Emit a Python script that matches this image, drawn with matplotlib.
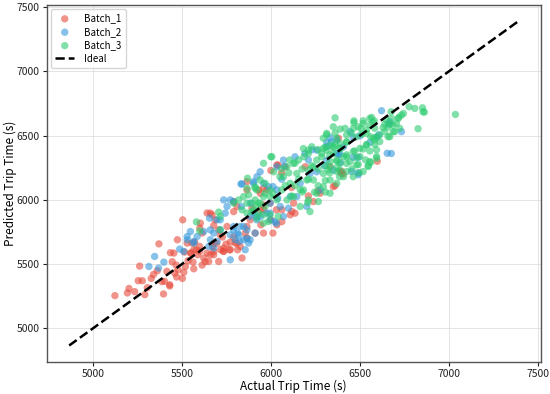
import matplotlib
matplotlib.use("Agg")
import matplotlib.pyplot as plt
import numpy as np

plt.rcParams['font.family'] = ['Noto Sans CJK SC', 'DejaVu Sans']

# (actual, predicted) values
batch1_points = [
    (5123,5254),(5202,5310),(5193,5275),(5234,5285),(5254,5370),(5277,5370),(5262,5484),(5291,5262),
    (5305,5316),(5327,5388),(5340,5419),(5361,5448),(5370,5657),(5396,5267),(5387,5363),(5402,5365),
    (5415,5443),(5431,5339),(5431,5329),(5435,5588),(5445,5518),(5454,5585),(5459,5430),(5467,5492),
    (5474,5689),(5470,5399),(5478,5456),(5502,5388),(5504,5844),(5510,5436),(5514,5593),(5519,5481),
    (5529,5663),(5534,5526),(5549,5585),(5557,5663),(5562,5515),(5566,5463),(5571,5671),(5581,5611),
    (5588,5572),(5599,5637),(5613,5492),(5622,5547),(5630,5518),(5641,5585),(5650,5520),(5659,5572),
    (5671,5637),(5678,5572),(5695,5660),(5706,5520),(5717,5611),(5727,5710),(5732,5600),(5747,5655),
    (5767,5611),(5799,5663),(5812,5611),(5837,5547),(5855,5741),(5865,5792),(5883,5844),(5911,5741),
    (5958,5922),(5999,5844),(5943,5805),(5641,5897),(5669,5883),(5603,5818),(5687,5844),(5706,5766),
    (5753,5792),(5790,5710),(5659,5896),(5678,5800),(5613,5741),(5600,5780),(5715,5727),(5678,5663),
    (5566,5611),(5600,5600),(5550,5585),(5734,5624),(5771,5611),(5809,5663),(5734,5598),(5678,5598),
    (5771,5670),(5827,5637),(5865,5702),(5958,5741),(6011,5741),(5893,5935),(5940,5922),(5790,5908),
    (5809,5948),(5790,5986),(5995,5974),(5958,5960),(6030,5922),(5865,6077),(5940,6050),(6033,6271),
    (5976,6077),(5958,6090),(5930,6077),(6080,6257),(6192,6257),(6276,6051),(6350,6102),(6397,6205),
    (6127,5974),(6117,5909),(6061,5922),(6108,5883),(6238,5986),(6597,6300),(6390,6215),(6405,6200),
    (6360,6110),(6265,6070),(6210,6030),(6115,6095),(6060,6210),(6040,6270),(6135,5896),(6061,5830),
    (6033,5805),(6379,6479),(6397,6220),(6332,6259),(5865,6141),(5999,6228),
]

batch2_points = [
    (5346,5559),(5314,5481),(5368,5469),(5398,5515),(5487,5616),(5529,5714),(5547,5753),(5566,5663),
    (5622,5753),(5650,5637),(5678,5625),(5655,5857),(5715,5844),(5743,5896),(5771,5533),(5790,5766),
    (5799,5690),(5812,5741),(5823,5676),(5855,5611),(5874,5663),(5865,5700),(5827,5792),(5790,5986),
    (5834,5948),(5883,5974),(5920,5870),(5902,5896),(5837,6123),(5902,6141),(5958,6128),(5734,5999),
    (5771,5999),(5753,5948),(5697,5844),(5659,5766),(5678,5741),(5715,5766),(5790,5792),(5818,5727),
    (5846,5792),(5865,5766),(5883,5870),(5940,5870),(5995,5844),(6020,5831),(5510,5598),(5529,5689),
    (5566,5676),(5585,5715),(5659,5689),(5697,5676),(5771,5727),(5846,5689),(5883,5689),(5911,5741),
    (5920,5844),(5976,5896),(6030,5818),(6011,6103),(6038,6012),(5921,6180),(5939,6218),(5902,6128),
    (5986,6102),(6033,6077),(5995,5974),(6052,5948),(6098,5935),(6145,6025),(6164,6128),(6219,6205),
    (6257,6218),(6313,6309),(6369,6360),(6407,6412),(6313,6412),(6257,6386),(6033,6257),(6070,6309),
    (6108,6025),(6276,6077),(6350,6231),(6201,5948),(5995,5896),(6070,5870),(6621,6693),(6733,6530),
    (6653,6362),(6676,6360),(6660,6590),(6444,6530),(6490,6210),(6370,6465),(6340,6450),(6380,6350),
    (6230,6390),(6190,6360),(6135,6335),(6075,6260),(6060,6160),(6210,6310),(6300,6265),(6390,6290),
    (6490,6330),(6605,6505),(6667,6607),(6593,6485),(6500,6498),(6462,6485),(6313,6446),(6332,6485),
    (6388,6355),(6462,6330),(6555,6446),(6453,6221),(6490,6195),(5831,6123),
]

batch3_points = [
    (5581,5828),(5599,5758),(5706,5904),(5715,5766),(5868,6168),(5958,6284),(5999,6335),(5865,6090),
    (5910,6090),(5846,6025),(5874,6038),(5920,6077),(5958,6025),(5995,6025),(6011,6050),(5865,5974),
    (5893,5974),(5920,5948),(5940,5974),(5967,5948),(5930,5896),(5995,5883),(5865,5896),(5837,5922),
    (5818,5999),(5790,5974),(5715,5870),(5920,5857),(5986,5831),(6040,5870),(5958,5818),(5902,5922),
    (5911,5999),(5930,5974),(5967,6051),(5995,6077),(5967,6128),(5939,6154),(6005,6335),(6015,6218),
    (6070,6180),(6090,6257),(6125,6283),(6145,6205),(6108,6128),(6061,6077),(6033,5999),(6090,5999),
    (6164,6077),(6201,6154),(6210,6231),(6238,6257),(6257,6309),(6285,6360),(6313,6386),(6350,6412),
    (6388,6438),(6425,6451),(6182,6399),(6210,6386),(6369,6309),(6407,6335),(6332,6257),(6294,6205),
    (6238,6154),(6182,6077),(6127,6025),(6164,5948),(6210,5999),(6257,6051),(6294,6102),(6332,6154),
    (6388,6231),(6425,6283),(6266,5986),(6219,5908),(6332,6051),(6369,6128),(6407,6180),(5911,6102),
    (5893,5909),(5958,5883),(6360,6638),(6466,6615),(6466,6600),(6518,6615),(6565,6641),(6580,6615),
    (6675,6685),(6744,6672),(6776,6724),(6808,6711),(6851,6716),(6862,6682),(7036,6664),(6826,6553),
    (6718,6641),(6686,6530),(6658,6491),(6630,6560),(6670,6590),(6350,6568),(6360,6520),(6313,6506),
    (6388,6550),(6416,6556),(6450,6520),(6505,6556),(6480,6490),(6510,6510),(6537,6543),(6560,6490),
    (6593,6491),(6610,6505),(6580,6465),(6583,6430),(6537,6430),(6518,6395),(6555,6380),(6531,6310),
    (6560,6290),(6593,6323),(6546,6265),(6490,6275),(6495,6210),(6462,6180),(6455,6240),(6425,6335),
    (6388,6395),(6350,6410),(6360,6435),(6425,6450),(6470,6380),(6480,6330),(6370,6300),(6330,6350),
    (6285,6335),(6265,6390),(6305,6410),(6229,6413),(6210,6360),(6185,6335),(6155,6310),(6135,6285),
    (6105,6310),(6175,6240),(6229,6265),(6265,6240),(6305,6265),(6330,6210),(6370,6250),(6385,6180),
    (6305,6150),(6305,6060),(6210,6160),(6155,6160),(6100,6210),(6060,6240),(6050,6180),(6080,6110),
    (6135,6110),(6265,6110),(6245,6060),(6175,6060),(6115,6030),(6555,6633),(6574,6602),(6462,6556),
    (6490,6568),(6518,6594),(6555,6582),(6583,6556),(6639,6587),(6658,6568),(6686,6582),(6705,6594),
    (6714,6633),(6733,6659),(6677,6633),(6649,6620),(6639,6530),(6667,6491),(6695,6530),(6723,6556),
    (6854,6685),(6313,6517),(6294,6479),(6369,6479),(6425,6505),(6537,6517),(6574,6479),(6611,6453),
    (6537,6427),(6593,6389),(6500,6401),(6462,6375),(6388,6401),(6332,6427),(6294,6401),(6350,6362),
    (6425,6350),(6500,6337),(6555,6298),(6593,6337),(6546,6259),(6481,6272),(6444,6298),(6388,6285),
    (6332,6298),(6322,6234),(6369,6220),(6425,6220),(6518,6220),(6206,5978),
]

batch_names = ["Batch_1", "Batch_2", "Batch_3"]
batch_colors = ["#e74c3c", "#3498db", "#2ecc71"]
ideal_range = [4866, 7389]
x_ticks = [5000, 5500, 6000, 6500, 7000, 7500]
y_ticks = [5000, 5500, 6000, 6500, 7000, 7500]

fig = plt.figure(figsize=(5.5, 3.94), dpi=100)
ax = fig.add_axes([0.085, 0.082, 0.898, 0.905])

for pts, name, col in zip([batch1_points, batch2_points, batch3_points], batch_names, batch_colors):
    arr = np.array(pts)
    ax.scatter(arr[:, 0], arr[:, 1], s=28, color=col, alpha=0.6, edgecolors='none', label=name)

ax.plot(ideal_range, ideal_range, 'k--', lw=1.8, label='Ideal')

ax.set_xlim(4740, 7515)
ax.set_ylim(4740, 7515)
ax.set_xticks(x_ticks)
ax.set_yticks(y_ticks)
ax.tick_params(labelsize=7.5, length=3, width=0.8, colors='#222222', pad=2)
ax.grid(True, color='#dddddd', lw=0.7, alpha=0.8)
ax.set_axisbelow(True)
for s in ax.spines.values():
    s.set_color('#555555')
    s.set_linewidth(1.0)

xl = ax.set_xlabel('Actual Trip Time (s)', fontsize=8.5)
yl = ax.set_ylabel('Predicted Trip Time (s)', fontsize=8.5)
ax.xaxis.set_label_coords(0.5, -0.068)
ax.yaxis.set_label_coords(-0.074, 0.5)
xl.set_va('center')
yl.set_va('center')

leg = ax.legend(loc='upper left', fontsize=7, frameon=True, handletextpad=1.0, borderpad=0.45,
                labelspacing=0.35, handlelength=2.0, borderaxespad=0.4)
leg.get_frame().set_edgecolor('#cccccc')

fig.savefig('out.png', dpi=100)
